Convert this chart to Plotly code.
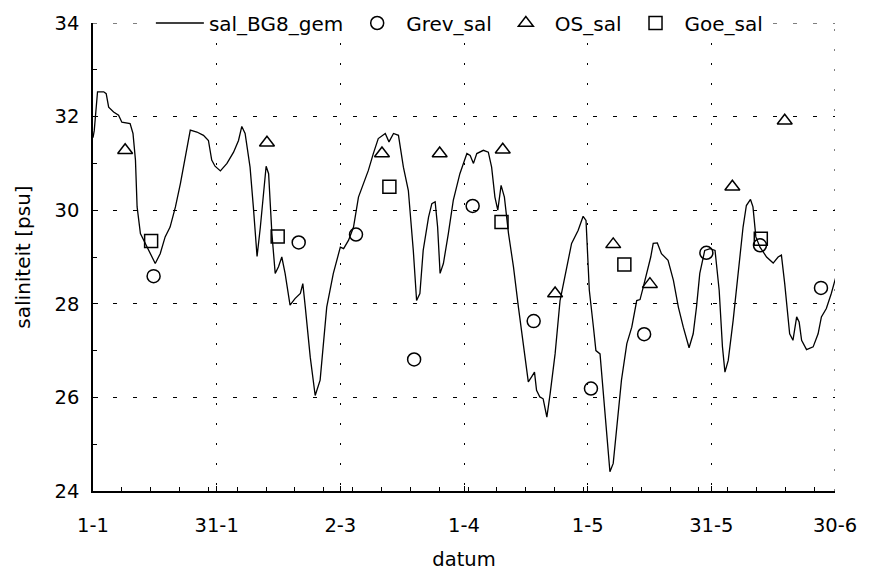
import plotly.graph_objects as go

# ---- data (day number since 1 January, salinity in psu) ----
sal_day = [0.0, 0.3, 1.1, 2.6, 3.2, 3.8, 5.0, 6.2, 7.0, 9.0, 9.7, 10.3, 10.7, 11.5, 12.7, 13.9,
           15.1, 16.3, 17.5, 18.7, 20.0, 21.2, 22.4, 23.6, 25.2, 26.8, 28.0, 28.8, 29.6, 30.9,
           32.5, 34.1, 35.3, 36.1, 36.9, 38.1, 38.9, 39.8, 40.6, 41.4, 42.0, 42.6, 43.4, 44.2,
           45.0, 45.8, 46.6, 47.8, 49.0, 50.3, 50.9, 51.5, 52.7, 53.9, 55.1, 56.7, 58.3, 60.0,
           60.8, 62.0, 63.2, 64.4, 65.6, 66.8, 68.0, 69.2, 70.9, 71.8, 72.9, 74.1, 75.3, 76.5,
           77.7, 78.5, 79.3, 80.1, 81.4, 82.2, 83.0, 83.6, 84.2, 85.0, 86.2, 87.4, 89.0, 90.7,
           91.5, 92.3, 93.1, 94.7, 95.9, 96.7, 97.5, 98.2, 99.0, 99.8, 100.8, 102.0, 103.2,
           104.4, 105.6, 106.4, 107.1, 107.6, 108.4, 109.2, 110.1, 110.9, 112.1, 113.3, 114.5,
           116.1, 117.7, 118.9, 119.6, 120.4, 121.4, 122.0, 123.0, 123.8, 124.6, 125.4, 126.2,
           127.0, 128.2, 129.5, 130.7, 131.9, 132.7, 133.5, 134.3, 135.3, 135.9, 136.9, 137.9,
           139.5, 140.8, 142.0, 143.2, 144.6, 145.6, 146.4, 147.2, 148.4, 149.7, 150.9, 151.9,
           152.7, 153.3, 154.1, 155.3, 156.5, 157.7, 158.5, 159.5, 160.1, 160.8, 161.8, 163.4,
           165.0, 166.2, 167.0, 167.8, 169.0, 169.8, 170.7, 171.3, 171.9, 173.1, 174.7, 175.9,
           176.7, 177.9, 179.1, 180.2]
sal_val = [31.55, 31.70, 32.53, 32.53, 32.49, 32.20, 32.10, 32.03, 31.88, 31.85, 31.64, 31.07,
           30.07, 29.50, 29.29, 29.07, 28.86, 29.07, 29.43, 29.64, 30.07, 30.57, 31.14, 31.71,
           31.67, 31.60, 31.49, 31.07, 30.94, 30.84, 31.00, 31.24, 31.49, 31.79, 31.64, 30.92,
           30.07, 29.01, 29.64, 30.42, 30.94, 30.78, 29.50, 28.65, 28.79, 29.00, 28.65, 27.97,
           28.11, 28.22, 28.43, 27.93, 26.86, 26.04, 26.37, 27.93, 28.65, 29.21, 29.18, 29.36,
           29.64, 30.28, 30.57, 30.85, 31.21, 31.53, 31.64, 31.46, 31.64, 31.60, 30.92, 30.42,
           29.14, 28.07, 28.22, 29.14, 29.85, 30.14, 30.18, 29.64, 28.65, 28.86, 29.50, 30.21,
           30.78, 31.21, 31.17, 31.00, 31.21, 31.28, 31.24, 30.92, 30.28, 30.00, 30.53, 30.28,
           29.50, 28.79, 27.93, 27.08, 26.33, 26.44, 26.54, 26.15, 26.01, 25.97, 25.58, 26.08,
           26.93, 28.07, 28.57, 29.29, 29.57, 29.87, 29.78, 28.29, 27.50, 27.00, 26.93, 26.08,
           25.08, 24.41, 24.59, 25.37, 26.37, 27.15, 27.50, 28.07, 28.09, 28.36, 28.65, 29.00,
           29.29, 29.30, 29.07, 28.93, 28.50, 27.93, 27.50, 27.06, 27.36, 27.93, 28.65, 29.14,
           29.18, 29.14, 28.29, 27.08, 26.54, 26.79, 27.65, 28.65, 29.64, 30.10, 30.23, 30.07,
           29.43, 29.21, 29.00, 28.87, 29.00, 29.04, 28.43, 27.36, 27.22, 27.72, 27.61, 27.22,
           27.02, 27.08, 27.36, 27.72, 27.90, 28.22, 28.57]

grev_day = [14.7, 49.9, 63.8, 77.9, 92.1, 106.9, 120.8, 133.7, 148.8, 161.8, 176.6]
grev_val = [28.59, 29.31, 29.48, 26.81, 30.09, 27.63, 26.19, 27.35, 29.09, 29.25, 28.34]

os_day = [7.8, 42.2, 70.1, 84.1, 99.4, 112.1, 126.2, 135.1, 155.1, 167.8]
os_val = [31.28, 31.44, 31.21, 31.21, 31.29, 28.22, 29.27, 28.42, 30.50, 31.91]

goe_day = [14.1, 44.8, 71.9, 99.1, 128.9, 162.0]
goe_val = [29.34, 29.44, 30.50, 29.75, 28.84, 29.39]

tick_days = [0, 30, 60, 90, 120, 150, 180]
tick_labels = ["1-1", "31-1", "2-3", "1-4", "1-5", "31-5", "30-6"]
y_ticks = [24, 26, 28, 30, 32, 34]

FONT = "DejaVu Sans"
X_MIN, X_MAX = tick_days[0], tick_days[-1]
Y_MIN, Y_MAX = y_ticks[0], y_ticks[-1]
H_DASH = "4px,16px"
V_DASH = "2px,18px"

fig = go.Figure()
fig.add_trace(go.Scatter(x=sal_day, y=sal_val, mode="lines", name="sal_BG8_gem",
                         line=dict(color="black", width=1.3)))
marker_common = dict(color="black", size=13, line=dict(color="black", width=1.5))
fig.add_trace(go.Scatter(x=grev_day, y=grev_val, mode="markers", name="Grev_sal",
                         marker=dict(symbol="circle-open", **marker_common)))
fig.add_trace(go.Scatter(x=os_day, y=os_val, mode="markers", name="OS_sal",
                         marker=dict(symbol="triangle-up-open", **marker_common)))
fig.add_trace(go.Scatter(x=goe_day, y=goe_val, mode="markers", name="Goe_sal",
                         marker=dict(symbol="square-open", **marker_common)))

# grid lines at the top and right edges (plotly hides edge grid lines)
fig.add_shape(type="line", xref="x", yref="y", x0=X_MIN, x1=X_MAX, y0=Y_MAX, y1=Y_MAX,
              line=dict(color="black", width=1, dash=H_DASH), layer="below")
fig.add_shape(type="line", xref="x", yref="y", x0=X_MAX, x1=X_MAX, y0=Y_MIN, y1=Y_MAX,
              line=dict(color="black", width=1, dash=V_DASH), layer="below")

fig.update_layout(
    width=874, height=573,
    margin=dict(l=93, r=39, t=23, b=82, autoexpand=False),
    paper_bgcolor="white", plot_bgcolor="white",
    font=dict(family=FONT, size=19.5, color="black"),
    showlegend=True,
    legend=dict(orientation="h", x=0.078, xanchor="left", y=1.0, yanchor="middle",
                bgcolor="white", borderwidth=0, font=dict(size=20),
                itemwidth=48),
)
fig.update_xaxes(
    range=[X_MIN, X_MAX], tickmode="array", tickvals=tick_days, ticktext=tick_labels,
    showline=True, linecolor="black", linewidth=1.5, mirror=False,
    ticks="inside", ticklen=5, tickcolor="black", tickwidth=1,
    ticklabelstandoff=16,
    showgrid=True, gridcolor="black", gridwidth=1, griddash=V_DASH,
    zeroline=False,
    minor=dict(tickmode="linear", tick0=0, dtick=7, ticks="inside", ticklen=4,
               tickcolor="black", showgrid=False),
    title=dict(text="datum", font=dict(size=19.5), standoff=16),
)
fig.update_yaxes(
    range=[Y_MIN, Y_MAX], tickmode="array", tickvals=y_ticks,
    showline=True, linecolor="black", linewidth=1.5, mirror=False,
    ticks="inside", ticklen=5, tickcolor="black", tickwidth=1,
    ticklabelstandoff=8,
    showgrid=True, gridcolor="black", gridwidth=1, griddash=H_DASH,
    zeroline=False,
    minor=dict(tickmode="linear", tick0=24, dtick=1, ticks="inside", ticklen=4,
               tickcolor="black", showgrid=False),
    title=dict(text="saliniteit [psu]", font=dict(size=20), standoff=19),
)

fig.write_html("out.html")
